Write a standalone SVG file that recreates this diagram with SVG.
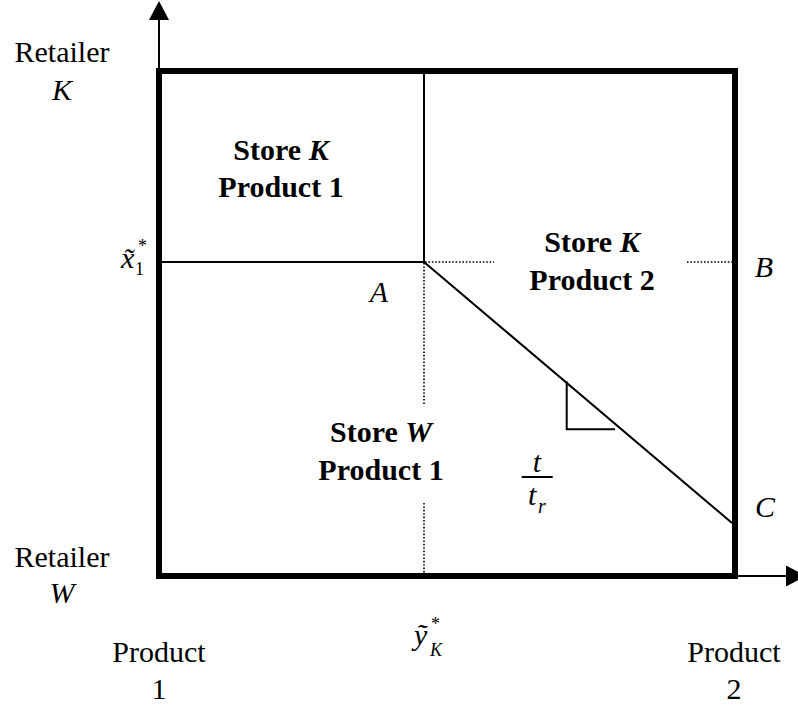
<svg xmlns="http://www.w3.org/2000/svg" width="798" height="706" viewBox="0 0 798 706">
<style>
text{font-family:"Liberation Serif","Times New Roman",serif;font-size:30px;fill:#000}
.b{font-weight:bold}
.i{font-style:italic}
.c{text-anchor:middle}
.thin{stroke:#000;stroke-width:2;fill:none}
.dot{stroke:#000;stroke-width:1.6;fill:none;stroke-dasharray:1.6 1.8}
.frame{stroke:#000;stroke-width:6;fill:none}
</style>
<rect width="798" height="706" fill="#fff"/>
<g id="axes">
<line class="thin" x1="159" y1="18" x2="159" y2="576"/>
<polygon points="159,1 149,20 169,20" fill="#000"/>
<line class="thin" x1="159" y1="576" x2="788" y2="576"/>
<polygon points="806,576 786,565.5 786,586.5" fill="#000"/>
</g>
<g id="frame"><rect class="frame" x="159" y="71" width="576" height="505"/></g>
<g id="connectors">
<line class="thin" x1="424" y1="71" x2="424" y2="262"/>
<line class="thin" x1="159" y1="262" x2="424" y2="262"/>
<line class="dot" x1="425" y1="262" x2="494" y2="262"/>
<line class="dot" x1="687" y1="262" x2="732" y2="262"/>
<line class="dot" x1="424" y1="263" x2="424" y2="405"/>
<line class="dot" x1="424" y1="503" x2="424" y2="573"/>
<line class="thin" x1="424" y1="262" x2="732" y2="523"/>
<polyline class="thin" points="566.7,381.5 566.7,429.3 615,429.3"/>
</g>
<g id="store-k-p1"><text class="b c" x="281" y="160">Store <tspan class="i">K</tspan></text><text class="b c" x="281" y="197">Product 1</text></g>
<g id="store-k-p2"><text class="b c" x="592" y="252">Store <tspan class="i">K</tspan></text><text class="b c" x="592" y="290">Product 2</text></g>
<g id="store-w-p1"><text class="b c" x="381" y="442">Store <tspan class="i">W</tspan></text><text class="b c" x="381" y="480">Product 1</text></g>
<g id="labels">
<text class="c" x="62" y="62">Retailer</text>
<text class="c i" x="62" y="100">K</text>
<text class="c" x="62" y="567">Retailer</text>
<text class="c i" x="62" y="603">W</text>
<text class="c" x="159" y="662">Product</text>
<text class="c" x="159" y="699">1</text>
<text class="c" x="734" y="662">Product</text>
<text class="c" x="734" y="699">2</text>
<text class="c i" x="379" y="302">A</text>
<text class="c i" x="764" y="277">B</text>
<text class="c i" x="765" y="517">C</text>
<text class="i" x="121" y="268">x̃</text>
<text x="135" y="275" style="font-size:18px">1</text>
<text x="138" y="252" style="font-size:18px">*</text>
<text class="i" x="414" y="645">ỹ</text>
<text class="i" x="430" y="656" style="font-size:18px">K</text>
<text x="431" y="630" style="font-size:18px">*</text>
<text class="c i" x="537" y="472">t</text>
<line class="thin" x1="521.7" y1="477" x2="552.7" y2="477"/>
<text class="i" x="528" y="505">t</text>
<text class="i" x="538" y="513" style="font-size:20px">r</text>
</g>
</svg>
